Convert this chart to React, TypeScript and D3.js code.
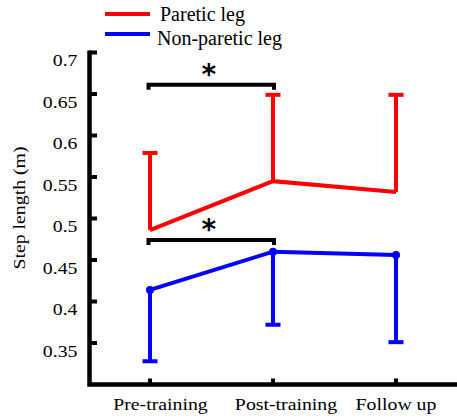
import React from "react";
import * as d3 from "d3";

const phases = ["Pre-training", "Post-training", "Follow up"];
const pareticMean = [0.486, 0.545, 0.532];
const pareticUpper = [0.579, 0.649, 0.649];
const nonPareticMean = [0.414, 0.46, 0.456];
const nonPareticLower = [0.328, 0.372, 0.351];
const yTicks = [0.35, 0.4, 0.45, 0.5, 0.55, 0.6, 0.65, 0.7];
const brackets = [
  { from: 0, to: 1, level: 0.661 },
  { from: 0, to: 1, level: 0.474 },
];

const W = 457;
const H = 418;
const font = "Liberation Serif";
// labels in the source are a bit wider than tall
const stretch = 1.2;
const labelShift = [10.5, 13, 0];

const App = () => {
  const x = d3.scalePoint<string>().domain(phases).range([150, 396]);
  const y = d3.scaleLinear().domain([0.3, 0.7]).range([384.5, 52.5]);
  const line = d3
    .line<number>()
    .x((d, i) => x(phases[i])!)
    .y(d => y(d));
  const cap = 7.5;
  const x0 = 89.5;
  const y0 = y(0.3);

  return (
    <svg width={W} height={H} style={{ position: "absolute", left: 0, top: 0 }}>
      {/* axes */}
      <path d={`M${x0},${y(0.7) - 2} L${x0},${y0} L${W},${y0}`} fill="none" stroke="black" strokeWidth={4.5} />
      {yTicks.map(t => (
        <g key={t}>
          <line x1={x0} x2={97} y1={y(t)} y2={y(t)} stroke="black" strokeWidth={4} />
          <text
            transform={`translate(77.5,${y(t) + 13.5}) scale(${stretch},1)`}
            textAnchor="end"
            fontFamily={font}
            fontSize={16.5}
          >
            {t}
          </text>
        </g>
      ))}
      {phases.map((p, i) => (
        <g key={p}>
          <line x1={x(p)} x2={x(p)} y1={y0} y2={y0 - 6} stroke="black" strokeWidth={4} />
          <text
            transform={`translate(${x(p)! + labelShift[i]},409.5) scale(${stretch},1)`}
            textAnchor="middle"
            fontFamily={font}
            fontSize={16.5}
          >
            {p}
          </text>
        </g>
      ))}
      <text
        transform={`translate(24.5,208) rotate(-90) scale(${stretch},1)`}
        textAnchor="middle"
        fontFamily={font}
        fontSize={16.5}
      >
        Step length (m)
      </text>

      {/* paretic */}
      {pareticMean.map((m, i) => (
        <g key={"r" + i}>
          <line x1={x(phases[i])} x2={x(phases[i])} y1={y(m)} y2={y(pareticUpper[i])} stroke="#ff0000" strokeWidth={4} />
          <line x1={x(phases[i])! - cap} x2={x(phases[i])! + cap} y1={y(pareticUpper[i])} y2={y(pareticUpper[i])} stroke="#ff0000" strokeWidth={4} />
        </g>
      ))}
      <path d={line(pareticMean)!} fill="none" stroke="#ff0000" strokeWidth={4} />

      {/* non-paretic */}
      {nonPareticMean.map((m, i) => (
        <g key={"b" + i}>
          <line x1={x(phases[i])} x2={x(phases[i])} y1={y(m)} y2={y(nonPareticLower[i])} stroke="#0000ff" strokeWidth={4} />
          <line x1={x(phases[i])! - cap} x2={x(phases[i])! + cap} y1={y(nonPareticLower[i])} y2={y(nonPareticLower[i])} stroke="#0000ff" strokeWidth={4} />
          <circle cx={x(phases[i])} cy={y(m)} r={4} fill="#0000ff" />
        </g>
      ))}
      <path d={line(nonPareticMean)!} fill="none" stroke="#0000ff" strokeWidth={4} />

      {/* significance */}
      {brackets.map((b, i) => {
        const x1 = x(phases[b.from])! - 1.5;
        const x2 = x(phases[b.to])! + 1;
        const yy = y(b.level);
        return (
          <g key={"s" + i}>
            <path d={`M${x1},${yy + 5} L${x1},${yy} L${x2},${yy} L${x2},${yy + 5}`} fill="none" stroke="black" strokeWidth={4} />
            <text x={(x1 + x2) / 2 - 2.5} y={yy - 1} textAnchor="middle" fontFamily="DejaVu Sans" fontWeight="bold" fontSize={28}>
              *
            </text>
          </g>
        );
      })}

      {/* legend */}
      <line x1={105} x2={150} y1={14} y2={14} stroke="#ff0000" strokeWidth={4} />
      <text x={160} y={21} fontFamily={font} fontSize={20}>Paretic leg</text>
      <line x1={105} x2={150} y1={34} y2={34} stroke="#0000ff" strokeWidth={4} />
      <text x={157} y={45} fontFamily={font} fontSize={20}>Non-paretic leg</text>
    </svg>
  );
};

export default App;
